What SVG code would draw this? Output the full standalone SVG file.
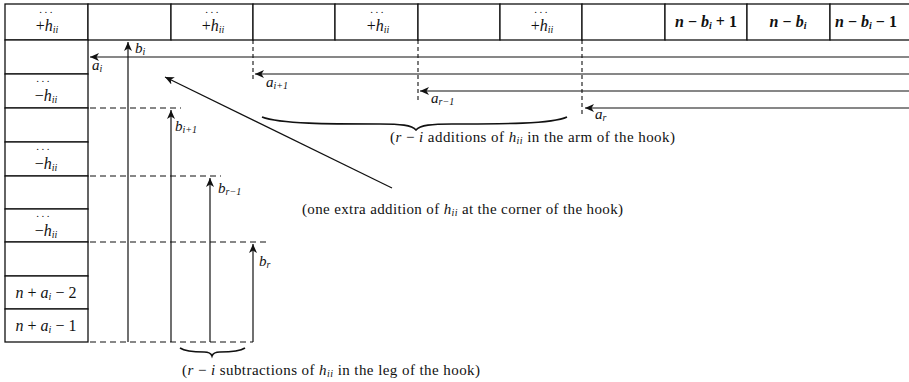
<svg xmlns="http://www.w3.org/2000/svg" width="909" height="382" viewBox="0 0 909 382">
<style>
  .cell { fill: #fff; stroke: #111; stroke-width: 1.3; }
  .t { font-family: "Liberation Serif", "DejaVu Serif", serif; font-size: 16px; fill: #111; }
  .l { font-family: "Liberation Serif", "DejaVu Serif", serif; font-size: 15px; fill: #111; }
  .m { font-style: italic; }
  .s { font-size: 10px; font-style: italic; }
  .dots { font-family: "Liberation Serif", "DejaVu Serif", serif; font-size: 11px; fill: #111; letter-spacing: 2.5px; }
  .ln { stroke: #111; stroke-width: 1.2; fill: none; }
  .dv { stroke: #111; stroke-width: 1.1; stroke-dasharray: 4 3; fill: none; }
  .dh { stroke: #111; stroke-width: 1.1; stroke-dasharray: 6 4; fill: none; }
  .cap { font-family: "Liberation Serif", "DejaVu Serif", serif; font-size: 15px; fill: #111; }
  .brace { fill: none; stroke: #111; stroke-width: 1.6; }
</style>
<defs>
  <marker id="ah" markerUnits="userSpaceOnUse" markerWidth="10" markerHeight="8" refX="9" refY="4" orient="auto">
    <path d="M0,0 L9,4 L0,8 L2.5,4 z" fill="#111"/>
  </marker>
</defs>
<rect width="909" height="382" fill="#fff"/>

<!-- top row -->
<g id="top1"><rect class="cell" x="5" y="4" width="83" height="36"/><text class="dots" x="47" y="13" text-anchor="middle">...</text><text class="t" x="47" y="31" text-anchor="middle">+<tspan class="m">h</tspan><tspan class="s" dy="2">ii</tspan></text></g>
<g id="top2"><rect class="cell" x="88" y="4" width="83" height="36"/></g>
<g id="top3"><rect class="cell" x="171" y="4" width="82" height="36"/><text class="dots" x="213" y="13" text-anchor="middle">...</text><text class="t" x="213" y="31" text-anchor="middle">+<tspan class="m">h</tspan><tspan class="s" dy="2">ii</tspan></text></g>
<g id="top4"><rect class="cell" x="253" y="4" width="82" height="36"/></g>
<g id="top5"><rect class="cell" x="335" y="4" width="83" height="36"/><text class="dots" x="378" y="13" text-anchor="middle">...</text><text class="t" x="378" y="31" text-anchor="middle">+<tspan class="m">h</tspan><tspan class="s" dy="2">ii</tspan></text></g>
<g id="top6"><rect class="cell" x="418" y="4" width="82" height="36"/></g>
<g id="top7"><rect class="cell" x="500" y="4" width="82" height="36"/><text class="dots" x="542" y="13" text-anchor="middle">...</text><text class="t" x="542" y="31" text-anchor="middle">+<tspan class="m">h</tspan><tspan class="s" dy="2">ii</tspan></text></g>
<g id="top8"><rect class="cell" x="582" y="4" width="83" height="36"/></g>
<g id="top9"><rect class="cell" x="665" y="4" width="82" height="36"/><text class="t" x="706" y="27" text-anchor="middle" font-weight="bold"><tspan class="m">n</tspan> − <tspan class="m">b</tspan><tspan class="s" dy="2">i</tspan><tspan dy="-2"> + 1</tspan></text></g>
<g id="top10"><rect class="cell" x="747" y="4" width="83" height="36"/><text class="t" x="788" y="27" text-anchor="middle" font-weight="bold"><tspan class="m">n</tspan> − <tspan class="m">b</tspan><tspan class="s" dy="2">i</tspan></text></g>
<g id="top11"><rect class="cell" x="830" y="4" width="90" height="36"/><text class="t" x="835" y="27" font-weight="bold"><tspan class="m">n</tspan> − <tspan class="m">b</tspan><tspan class="s" dy="2">i</tspan><tspan dy="-2"> − 1</tspan></text></g>

<!-- left column -->
<g id="left1"><rect class="cell" x="5" y="40" width="83" height="34"/></g>
<g id="left2"><rect class="cell" x="5" y="74" width="83" height="34"/><text class="dots" x="44" y="82" text-anchor="middle">...</text><text class="t" x="46" y="101" text-anchor="middle">−<tspan class="m">h</tspan><tspan class="s" dy="2">ii</tspan></text></g>
<g id="left3"><rect class="cell" x="5" y="108" width="83" height="34"/></g>
<g id="left4"><rect class="cell" x="5" y="142" width="83" height="34"/><text class="dots" x="44" y="150" text-anchor="middle">...</text><text class="t" x="46" y="169" text-anchor="middle">−<tspan class="m">h</tspan><tspan class="s" dy="2">ii</tspan></text></g>
<g id="left5"><rect class="cell" x="5" y="176" width="83" height="33"/></g>
<g id="left6"><rect class="cell" x="5" y="209" width="83" height="33"/><text class="dots" x="44" y="217" text-anchor="middle">...</text><text class="t" x="46" y="236" text-anchor="middle">−<tspan class="m">h</tspan><tspan class="s" dy="2">ii</tspan></text></g>
<g id="left7"><rect class="cell" x="5" y="242" width="83" height="34"/></g>
<g id="left8"><rect class="cell" x="5" y="276" width="83" height="33"/><text class="t" x="46" y="298" text-anchor="middle"><tspan class="m">n</tspan> + <tspan class="m">a</tspan><tspan class="s" dy="2">i</tspan><tspan dy="-2"> − 2</tspan></text></g>
<g id="left9"><rect class="cell" x="5" y="309" width="83" height="33"/><text class="t" x="46" y="331" text-anchor="middle"><tspan class="m">n</tspan> + <tspan class="m">a</tspan><tspan class="s" dy="2">i</tspan><tspan dy="-2"> − 1</tspan></text></g>

<!-- connectors -->
<g id="connectors">
  <line class="ln" x1="909" y1="57" x2="90" y2="57" marker-end="url(#ah)"/>
  <line class="ln" x1="909" y1="74" x2="255" y2="74" marker-end="url(#ah)"/>
  <line class="ln" x1="909" y1="91" x2="420" y2="91" marker-end="url(#ah)"/>
  <line class="ln" x1="909" y1="108" x2="585" y2="108" marker-end="url(#ah)"/>
  <line class="dv" x1="253" y1="40" x2="253" y2="80"/>
  <line class="dv" x1="418" y1="40" x2="418" y2="101"/>
  <line class="dv" x1="582" y1="40" x2="582" y2="116"/>
  <line class="ln" x1="128" y1="342" x2="128" y2="42" marker-end="url(#ah)"/>
  <line class="ln" x1="171" y1="342" x2="171" y2="110" marker-end="url(#ah)"/>
  <line class="ln" x1="210" y1="342" x2="210" y2="178" marker-end="url(#ah)"/>
  <line class="ln" x1="253" y1="342" x2="253" y2="244" marker-end="url(#ah)"/>
  <line class="dh" x1="90" y1="108" x2="181" y2="108"/>
  <line class="dh" x1="90" y1="176" x2="221" y2="176"/>
  <line class="dh" x1="90" y1="242" x2="267" y2="242"/>
  <line class="dh" x1="90" y1="342" x2="253" y2="342"/>
  <line class="ln" x1="392" y1="188" x2="165" y2="77" marker-end="url(#ah)"/>
</g>

<!-- arrow labels -->
<g id="labels">
  <text class="l" x="135" y="53"><tspan class="m">b</tspan><tspan class="s" dy="2">i</tspan></text>
  <text class="l" x="92" y="70"><tspan class="m">a</tspan><tspan class="s" dy="2">i</tspan></text>
  <text class="l" x="266" y="87"><tspan class="m">a</tspan><tspan class="s" dy="2">i+1</tspan></text>
  <text class="l" x="431" y="103"><tspan class="m">a</tspan><tspan class="s" dy="2">r−1</tspan></text>
  <text class="l" x="595" y="119"><tspan class="m">a</tspan><tspan class="s" dy="2">r</tspan></text>
  <text class="l" x="175" y="131"><tspan class="m">b</tspan><tspan class="s" dy="2">i+1</tspan></text>
  <text class="l" x="218" y="193"><tspan class="m">b</tspan><tspan class="s" dy="2">r−1</tspan></text>
  <text class="l" x="259" y="266"><tspan class="m">b</tspan><tspan class="s" dy="2">r</tspan></text>
</g>

<!-- braces and captions -->
<path class="brace" d="M262,117 C280,124 330,124 380,124 C400,124 412,125 416,130 C420,125 432,124 452,124 C502,124 552,124 567,117"/>
<path class="brace" d="M180,348 C186,352 196,352 204,352 C209,352 211,353 212,356 C213,353 215,352 220,352 C228,352 239,352 245,348"/>
<text class="cap" x="390" y="142" textLength="285">(<tspan class="m">r</tspan> − <tspan class="m">i</tspan> additions of <tspan class="m">h</tspan><tspan class="s" dy="2">ii</tspan><tspan dy="-2"> in the arm of the hook)</tspan></text>
<text class="cap" x="302" y="214" textLength="321">(one extra addition of <tspan class="m">h</tspan><tspan class="s" dy="2">ii</tspan><tspan dy="-2"> at the corner of the hook)</tspan></text>
<text class="cap" x="182" y="375" textLength="298">(<tspan class="m">r</tspan> − <tspan class="m">i</tspan> subtractions of <tspan class="m">h</tspan><tspan class="s" dy="2">ii</tspan><tspan dy="-2"> in the leg of the hook)</tspan></text>
</svg>
